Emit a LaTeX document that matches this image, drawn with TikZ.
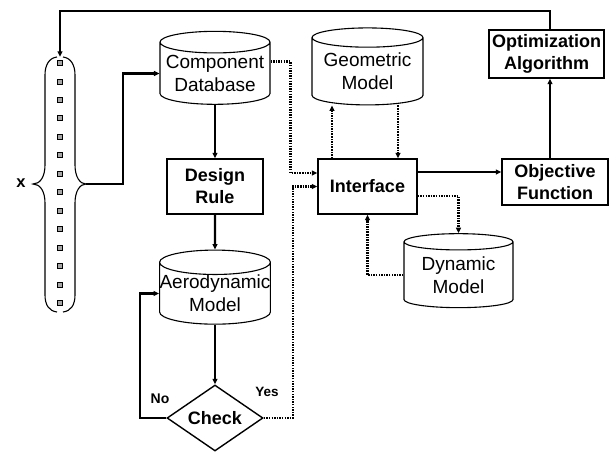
\documentclass[tikz,border=0pt]{standalone}
\usepackage{fontspec}
\setmainfont{Liberation Sans}
\usetikzlibrary{arrows.meta,positioning,shapes.geometric}
\definecolor{bitgray}{HTML}{A6A6A6}

\begin{document}
\begin{tikzpicture}[x=1pt, y=-1pt,
    every node/.style={align=center, font=\fontsize{19}{23}\selectfont},
    cyl/.style={cylinder, shape border rotate=90, draw, line width=1.1pt,
      aspect=0.22, minimum width=110pt, minimum height=73pt, inner sep=0pt},
    blk/.style={draw, line width=1.4pt, inner sep=0pt,
      font=\fontsize{18}{22}\selectfont\bfseries},
    bit/.style={draw, line width=0.8pt, fill=bitgray, inner sep=0pt,
      minimum size=5pt},
    lbl/.style={font=\fontsize{14}{17}\selectfont\bfseries},
    arr/.style={-{Triangle[length=5.5pt, width=5pt]}, line width=2.2pt},
    dotarr/.style={-{Triangle[length=5.5pt, width=5pt]}, line width=2.2pt,
      dash pattern=on 1.5pt off 1.1pt}]
  \useasboundingbox (0,0) rectangle (614,451);

  % design vector
  \node[minimum width=30pt, minimum height=255pt, inner sep=0pt] (vec) at (60,184.5) {};
  \draw[line width=1.1pt] (57,57) .. controls (49,58) and (45,65) .. (45,75) -- (45,165)
    .. controls (45,177) and (40,184) .. (33,184) .. controls (40,184) and (45,191) .. (45,203)
    -- (45,295) .. controls (45,305) and (49,311) .. (57,312);
  \draw[line width=1.1pt] (63,57) .. controls (71,58) and (75,65) .. (75,75) -- (75,165)
    .. controls (75,177) and (80,184) .. (86,184) coordinate (braceR)
    .. controls (80,184) and (75,191) .. (75,203)
    -- (75,295) .. controls (75,305) and (71,311) .. (63,312);
  \foreach \i in {0,...,13}
    \node[bit] (b\i) at (60,{63+18.46*\i}) {};
  \node[lbl, font=\fontsize{16.5}{19}\selectfont\bfseries] (xlab) at (21,183) {x};

  % nodes
  \node[cyl] (comp) at (215,73.5) {Component\\Database};
  \node[blk, minimum width=96pt, minimum height=55pt] (rule) at (215,186.5) {Design\\Rule};
  \node[cyl] (aero) at (215,293.5) {Aerodynamic\\Model};
  \node[diamond, draw, line width=1.4pt, inner sep=0pt, aspect=1.45,
        minimum width=96pt, minimum height=66pt,
        font=\fontsize{18}{22}\selectfont\bfseries] (check) at (215,418) {Check};
  \node[blk, minimum width=99pt, minimum height=55pt] (iface) at (367.5,186.5) {Interface};
  \node[cyl, minimum width=111pt, minimum height=77pt] (geom) at (367.5,71.5) {Geometric\\Model};
  \node[cyl, minimum width=109pt, minimum height=74pt] (dyn) at (458.5,275) {Dynamic\\Model};
  \node[blk, minimum width=106pt, minimum height=46pt] (obj) at (555,182) {Objective\\Function};
  \node[blk, minimum width=115pt, minimum height=48pt] (opt) at (546.5,54) {Optimization\\Algorithm};

  \node[lbl] (no) at (160,399) {No};
  \node[lbl, font=\fontsize{13.5}{16}\selectfont\bfseries] (yes) at (267,392) {Yes};

  % solid flow
  \draw[arr] (braceR) -- ++(37,0) |- (comp.west);
  \draw[arr] (comp.south) -- (rule.north);
  \draw[arr] (rule.south) -- (aero.north);
  \draw[arr] (aero.south) -- (check.north);
  \draw[arr] (check.west) -- ++(-26,0) |- (aero.west);
  \draw[arr] ([yshift=14.5pt]iface.east) -- ([yshift=14.5pt]iface.east -| obj.west);
  \draw[arr] ([xshift=-5pt]obj.north) -- ([xshift=-5pt]obj.north |- opt.south);
  \draw[arr] ([xshift=3.5pt]opt.north) -- ++(0,-18) -| (vec.north);

  % dotted links
  \draw[dotarr] ([yshift=12pt]comp.east) -- ++(20,0) |- ([yshift=13.5pt]iface.west);
  \draw[dotarr] (check.east) -- ++(29,0) |- (iface.west);
  \draw[dotarr] ([xshift=-35.5pt]iface.north) -- ([xshift=-35.5pt]iface.north |- geom.south);
  \draw[dotarr] ([xshift=30.5pt]geom.south) -- ([xshift=30.5pt]geom.south |- iface.north);
  \draw[dotarr] ([yshift=-9.5pt]iface.east) -| (dyn.north);
  \draw[dotarr] (dyn.west) -| (iface.south);
\end{tikzpicture}
\end{document}
